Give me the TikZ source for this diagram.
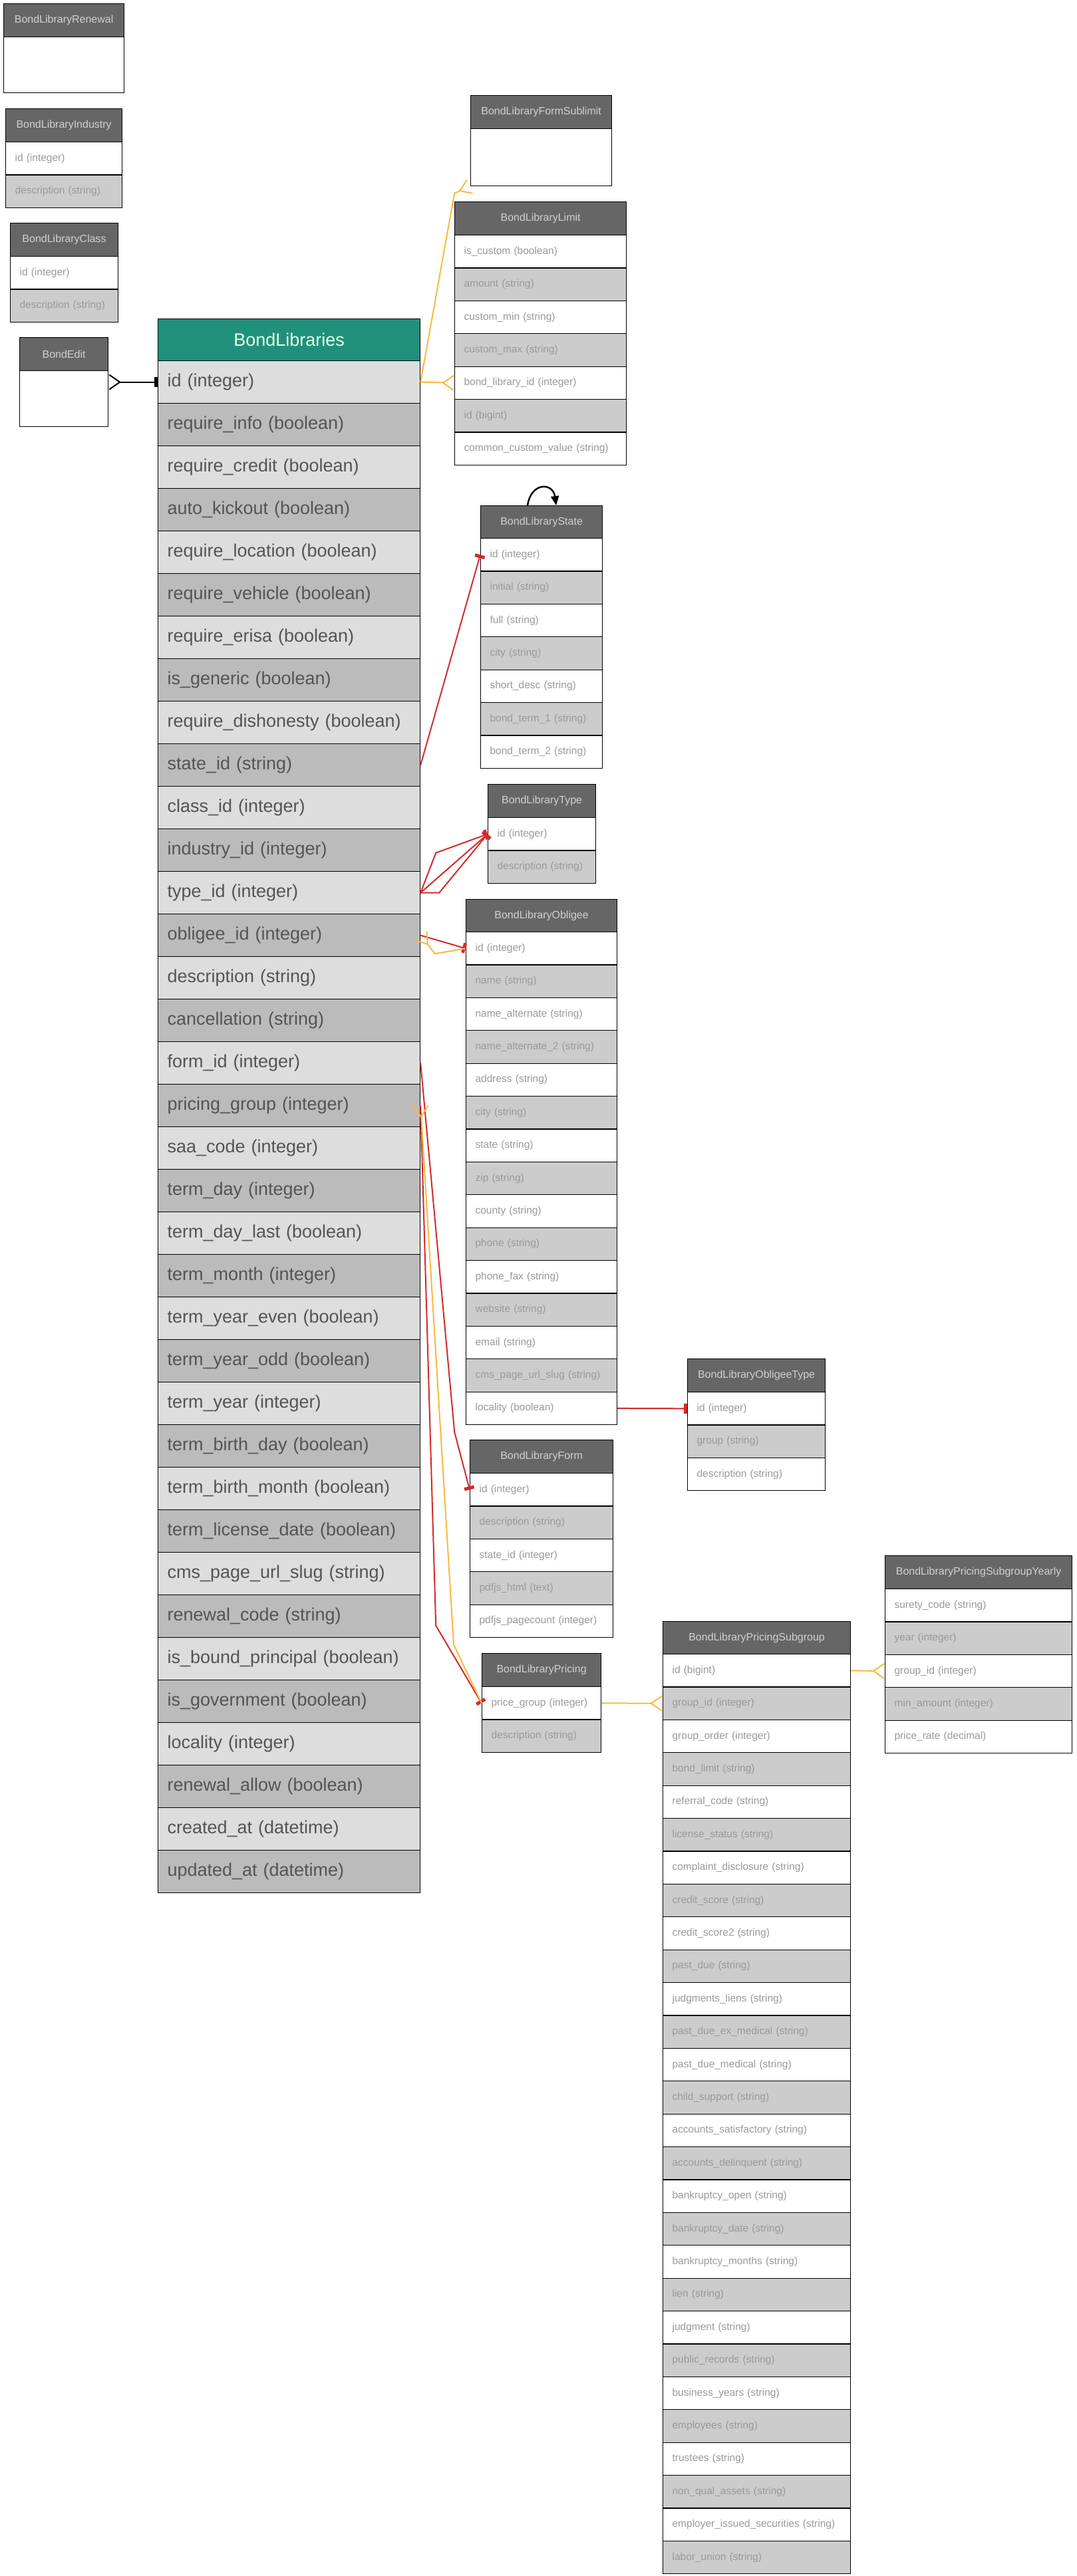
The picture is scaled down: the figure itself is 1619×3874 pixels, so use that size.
\documentclass[tikz,border=0pt]{standalone}
\usepackage{fontspec}
\setmainfont{Liberation Sans}
\usetikzlibrary{arrows.meta}

\definecolor{smallhd}{HTML}{666666}
\definecolor{smalla}{HTML}{FFFFFF}
\definecolor{smallb}{HTML}{CCCCCC}
\definecolor{bighd}{HTML}{21907B}
\definecolor{biga}{HTML}{DDDDDD}
\definecolor{bigb}{HTML}{BBBBBB}
\definecolor{relorange}{HTML}{FBB83F}
\definecolor{relred}{HTML}{D42A2A}

\tikzset{
  smallhead/.style={draw=black,line width=1.2pt,fill=smallhd,text=black!18,inner sep=0pt,
                    font=\fontsize{16}{19}\selectfont},
  smallrow/.style={draw=black,line width=1.2pt,text=black!40,inner xsep=14pt,inner ysep=0pt,
                   align=left,font=\fontsize{15.5}{19}\selectfont},
  bighead/.style={draw=black,line width=1.2pt,fill=bighd,text=green!10!white,inner sep=0pt,
                  font=\fontsize{27}{32}\selectfont},
  bigrow/.style={draw=black,line width=1.2pt,text=black!67,inner xsep=14pt,inner ysep=0pt,
                 align=left,font=\fontsize{27}{32}\selectfont},
  rel/.style={line width=2pt},
  crow/.tip={Straight Barb[reversed,length=16pt,width=22pt]},
  onebar/.tip={Rectangle[length=5pt,width=15pt]}
}

% name, x, y, width, head height, row height, look, title, fields
\newcommand{\ertable}[9]{%
  \node[#7head,minimum width=#4pt,minimum height=#5pt,anchor=north west] (#1) at (#2,#3) {#8} ;
  \foreach \f [count=\i] in {#9} {
    \pgfmathsetmacro\rowy{#3+#5+(\i-1)*#6}
    \pgfmathsetmacro\tw{#4-28}
    \ifodd\i \def\rowfill{#7a}\else \def\rowfill{#7b}\fi
    \node[#7row,fill=\rowfill,text width=\tw pt,minimum height=#6pt,anchor=north west]
      (#1-\i) at (#2,\rowy) {\mbox{\f}} ;
  }
}

\begin{document}
\begin{tikzpicture}[x=1pt,y=-1pt]
  \useasboundingbox (0,0) rectangle (1619,3874) ;
  \ertable{renewal}{5}{5}{181}{50}{84}{small}{BondLibraryRenewal}{{}}
  \ertable{industry}{8}{163}{175}{50}{49.4}{small}{BondLibraryIndustry}{id (integer), description (string)}
  \ertable{class}{15}{335}{162}{50}{49.4}{small}{BondLibraryClass}{id (integer), description (string)}
  \ertable{edit}{29}{507}{133}{50}{84}{small}{BondEdit}{{}}
  \ertable{libs}{237}{479}{394}{63}{64}{big}{BondLibraries}{id (integer), require\_info (boolean),
    require\_credit (boolean), auto\_kickout (boolean), require\_location (boolean),
    require\_vehicle (boolean), require\_erisa (boolean), is\_generic (boolean),
    require\_dishonesty (boolean), state\_id (string), class\_id (integer), industry\_id (integer),
    type\_id (integer), obligee\_id (integer), description (string), cancellation (string),
    form\_id (integer), pricing\_group (integer), saa\_code (integer), term\_day (integer),
    term\_day\_last (boolean), term\_month (integer), term\_year\_even (boolean),
    term\_year\_odd (boolean), term\_year (integer), term\_birth\_day (boolean),
    term\_birth\_month (boolean), term\_license\_date (boolean), cms\_page\_url\_slug (string),
    renewal\_code (string), is\_bound\_principal (boolean), is\_government (boolean),
    locality (integer), renewal\_allow (boolean), created\_at (datetime), updated\_at (datetime)}
  \ertable{sublimit}{707}{143}{212}{50}{86}{small}{BondLibraryFormSublimit}{{}}
  \ertable{limit}{683}{303}{258}{50}{49.4}{small}{BondLibraryLimit}{is\_custom (boolean),
    amount (string), custom\_min (string), custom\_max (string), bond\_library\_id (integer),
    id (bigint), common\_custom\_value (string)}
  \ertable{state}{722}{760}{183}{49}{49.4}{small}{BondLibraryState}{id (integer), initial (string),
    full (string), city (string), short\_desc (string), bond\_term\_1 (string), bond\_term\_2 (string)}
  \ertable{type}{733}{1179}{162}{50}{49.4}{small}{BondLibraryType}{id (integer), description (string)}
  \ertable{obligee}{700}{1352}{227}{49}{49.4}{small}{BondLibraryObligee}{id (integer), name (string),
    name\_alternate (string), name\_alternate\_2 (string), address (string), city (string),
    state (string), zip (string), county (string), phone (string), phone\_fax (string),
    website (string), email (string), cms\_page\_url\_slug (string), locality (boolean)}
  \ertable{otype}{1033}{2043}{207}{50}{49.4}{small}{BondLibraryObligeeType}{id (integer),
    group (string), description (string)}
  \ertable{form}{706}{2165}{215}{50}{49.4}{small}{BondLibraryForm}{id (integer), description (string),
    state\_id (integer), pdfjs\_html (text), pdfjs\_pagecount (integer)}
  \ertable{pricing}{724}{2486}{179}{50}{49.4}{small}{BondLibraryPricing}{price\_group (integer),
    description (string)}
  \ertable{subgroup}{996}{2438}{282}{49}{49.4}{small}{BondLibraryPricingSubgroup}{id (bigint),
    group\_id (integer), group\_order (integer), bond\_limit (string), referral\_code (string),
    license\_status (string), complaint\_disclosure (string), credit\_score (string),
    credit\_score2 (string), past\_due (string), judgments\_liens (string),
    past\_due\_ex\_medical (string), past\_due\_medical (string), child\_support (string),
    accounts\_satisfactory (string), accounts\_delinquent (string), bankruptcy\_open (string),
    bankruptcy\_date (string), bankruptcy\_months (string), lien (string), judgment (string),
    public\_records (string), business\_years (string), employees (string), trustees (string),
    non\_qual\_assets (string), employer\_issued\_securities (string), labor\_union (string)}
  \ertable{yearly}{1330}{2339}{281}{50}{49.4}{small}{BondLibraryPricingSubgroupYearly}{surety\_code (string),
    year (integer), group\_id (integer), min\_amount (integer), price\_rate (decimal)}

  % relations
  \draw[rel,{crow}-{onebar}] (edit-1.east |- libs-1.west) -- (libs-1.west) ;
  \draw[rel,relorange,-{crow}] (libs-1.east) -- (limit-5.west) ;
  \draw[rel,relorange,-{crow}] (libs-1.east) -- ++(51,-284) -- (sublimit-1.south west) ;
  \draw[rel,relred,-{onebar}] (libs-10.east) -- (state-1.west) ;
  \draw[rel,relred,-{onebar}] (libs-13.east) -- (type-1.west) ;
  \draw[rel,relred,-{onebar}] (libs-13.east) -- ++(23,-60) -- (type-1.west) ;
  \draw[rel,relred,-{onebar}] (libs-13.east) -- ++(28,0) -- (type-1.west) ;
  \draw[rel,relred,-{onebar}] (libs-14.east) -- (obligee-1.west) ;
  \draw[rel,relorange,-{crow}] (obligee-1.west) -- ++(-46,8) -- (libs-14.east) ;
  \draw[rel,relred,-{onebar}] (obligee-15.east) -- (otype-1.west) ;
  \draw[rel,relred,-{onebar}] (libs-17.east) -- ++(51,555) -- (form-1.west) ;
  \draw[rel,relred,-{onebar}] (libs-18.east) -- ++(23,782) -- (pricing-1.west) ;
  \draw[rel,relorange,-{crow}] (pricing-1.west) -- ++(-42,-88) -- (libs-18.east) ;
  \draw[rel,relorange,-{crow}] (pricing-1.east) -- (subgroup-2.west) ;
  \draw[rel,relorange,-{crow}] (subgroup-1.east) -- (yearly-3.west) ;
  \draw[line width=2.5pt,-{Triangle[length=14pt,width=12pt]}] ([xshift=-21pt]state.north)
    .. controls +(5,-35) and +(-5,-35) .. ([xshift=22pt]state.north) ;
\end{tikzpicture}
\end{document}
